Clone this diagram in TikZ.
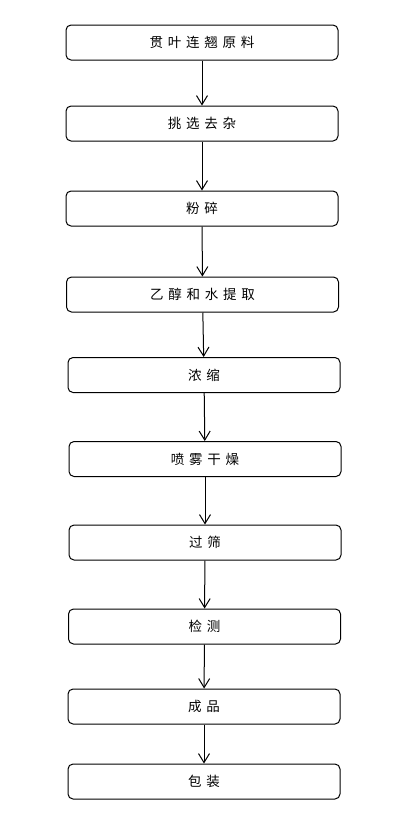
\documentclass[tikz,border=0pt]{standalone}
\usepackage{fontspec}
\newfontfamily\cjk[LetterSpace=35]{Noto Sans CJK SC}
\usetikzlibrary{arrows.meta}

\begin{document}
\begin{tikzpicture}[x=1pt,y=-1pt,
            every node/.style={draw,rounded corners=5pt,line width=1pt,minimum width=272pt,minimum height=35pt,font=\cjk\fontsize{13.5pt}{15pt}\selectfont}]
                \useasboundingbox (0,0) rectangle (411,828);
                \node(yuanliao) at (202, 42.5) {贯叶连翘原料};
                \node(tiaoxuan) at (202, 123.5) {挑选去杂};
                \node(fensui) at (202, 208.5) {粉碎};
                \node(tiqu) at (202.5, 294.5) {乙醇和水提取};
                \node(nongsuo) at (204, 375) {浓缩};
                \node(ganzao) at (205, 459) {喷雾干燥};
                \node(guoshai) at (205, 542.5) {过筛};
                \node(jiance) at (204.5, 626.5) {检测};
                \node(chengpin) at (204, 706.5) {成品};
                \node(baozhuang) at (204, 781.5) {包装};

            \begin{scope}[-{Straight Barb[length=9pt,width=11pt]}, line width=1pt]
                \draw (yuanliao)--(tiaoxuan);
                \draw (tiaoxuan)--(fensui);
                \draw (fensui)--(tiqu);
                \draw (tiqu)--(nongsuo);
                \draw (nongsuo)--(ganzao);
                \draw (ganzao)--(guoshai);
                \draw (guoshai)--(jiance);
                \draw (jiance)--(chengpin);
                \draw (chengpin)--(baozhuang);
            \end{scope}
        \end{tikzpicture}
\end{document}
